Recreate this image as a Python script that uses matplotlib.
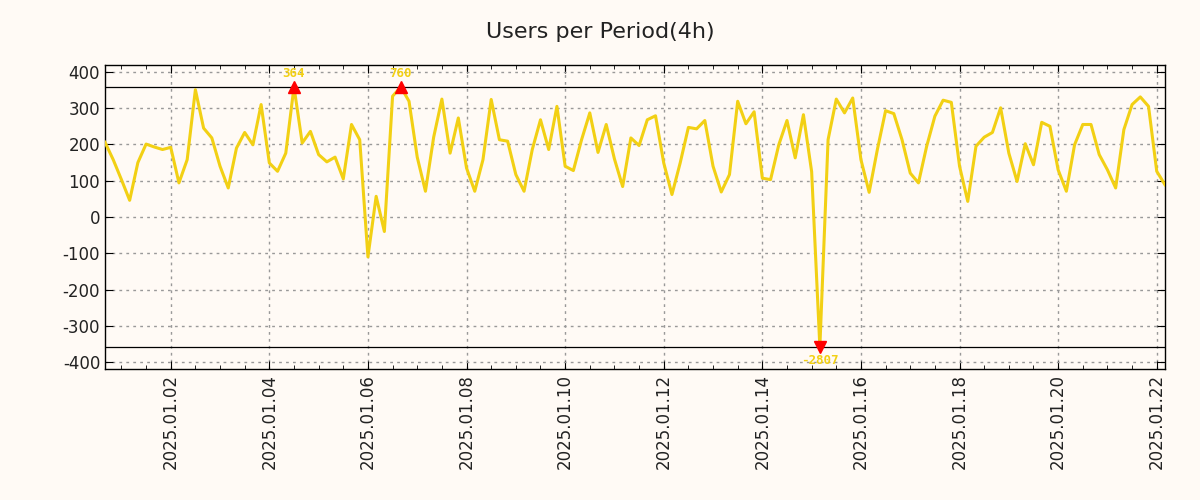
import numpy as np
import pandas as pd
import matplotlib
matplotlib.use("Agg")
import matplotlib.pyplot as plt
import matplotlib.dates as mdates

plt.rcParams["axes.unicode_minus"] = False

# users per 4h period, starting 2024-12-31 16:00
start = "2024-12-31 16:00"
users = [206, 158, 103, 46, 150, 201, 193, 186, 192, 94,
         158, 351, 245, 218, 140, 80, 190, 233, 199, 310,
         149, 126, 176, 364, 204, 236, 172, 152, 165, 105,
         255, 213, -110, 57, -40, 333, 760, 319, 165, 71,
         220, 325, 176, 273, 135, 71, 158, 324, 213, 209,
         117, 71, 186, 268, 186, 305, 140, 128, 213, 287,
         178, 255, 160, 84, 218, 197, 268, 279, 149, 62,
         149, 247, 243, 266, 140, 69, 117, 319, 257, 290,
         107, 103, 199, 266, 163, 282, 125, -2807, 213, 325,
         287, 328, 158, 68, 186, 293, 285, 213, 121, 94,
         195, 278, 322, 316, 140, 43, 195, 220, 233, 301,
         176, 98, 202, 144, 261, 250, 130, 71, 199, 255,
         255, 172, 130, 80, 241, 310, 331, 305, 126, 89]
clip = 358.6

t = pd.date_range(start, periods=len(users), freq="4h")
v = np.array(users, dtype=float)
shown = np.clip(v, -clip, clip)

BG = "#fffaf5"
LINE = "#f2d014"
TXT = "#222222"

fig = plt.figure(figsize=(12, 5), dpi=100, facecolor=BG)
ax = fig.add_axes([0.0875, 0.262, 0.8833, 0.608], facecolor=BG)

ax.plot(t, shown, color=LINE, lw=2.2, zorder=3)
ax.axhline(clip, color="black", lw=0.9, zorder=2)
ax.axhline(-clip, color="black", lw=0.9, zorder=2)

for ti, val in zip(t, v):
    if val > clip:
        ax.plot(ti, clip, marker="^", color="red", ms=8, zorder=4)
        ax.annotate(f"{val:.0f}", (ti, clip), xytext=(0, 5), textcoords="offset points",
                    ha="center", va="bottom", color=LINE, fontsize=9,
                    fontweight="bold", family="DejaVu Sans Mono")
    elif val < -clip:
        ax.plot(ti, -clip, marker="v", color="red", ms=8, zorder=4)
        ax.annotate(f"{val:.0f}", (ti, -clip), xytext=(0, -5), textcoords="offset points",
                    ha="center", va="top", color=LINE, fontsize=9,
                    fontweight="bold", family="DejaVu Sans Mono")

ax.set_xlim(t[0], t[-1])
ax.set_ylim(-419, 419)
ax.set_yticks(np.arange(-400, 401, 100))

ax.xaxis.set_major_locator(mdates.DayLocator(bymonthday=range(2, 32, 2)))
ax.xaxis.set_minor_locator(mdates.HourLocator(byhour=[0, 12]))
ax.xaxis.set_major_formatter(mdates.DateFormatter("%Y.%m.%d"))
plt.setp(ax.get_xticklabels(), rotation=90)

ax.tick_params(which="both", direction="in", top=True, right=True, colors="black",
               labelcolor=TXT, labelsize=12)
ax.tick_params(which="major", length=6)
ax.tick_params(which="minor", length=3)
ax.grid(which="major", color="#999999", ls=(0, (2, 3)), lw=1.0)
for s in ax.spines.values():
    s.set_color("black")
    s.set_linewidth(1.0)

fig.suptitle("Users per Period(4h)", fontsize=16, color=TXT, y=0.955)
fig.savefig("out.png", dpi=100, facecolor=BG)
